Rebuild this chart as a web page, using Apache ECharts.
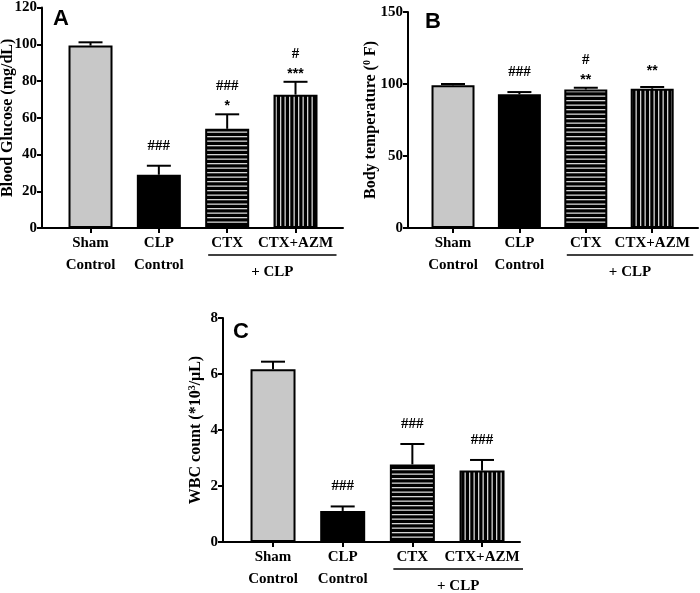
<!DOCTYPE html>
<html><head><meta charset="utf-8">
<script src="https://cdn.jsdelivr.net/npm/echarts@6/dist/echarts.min.js"></script>
<style>html,body{margin:0;padding:0;background:#fff}#c{width:700px;height:593px}</style>
</head><body><div id="c"></div>
<script>
// ---- data ----
const categories = ['Sham\nControl', 'CLP\nControl', 'CTX', 'CTX+AZM'];
const groupLabel = '+ CLP';

const glucoseMean = [99.3, 29.0, 54.0, 72.6];
const glucoseSem  = [1.8, 4.9, 7.9, 7.0];
const glucoseMarksUpper = ['', '', '###', '#'];
const glucoseMarksLower = ['', '###', '*', '***'];
const glucoseTicks = [0, 20, 40, 60, 80, 100, 120];

const tempMean = [99.1, 92.8, 96.2, 96.7];
const tempSem  = [0.9, 1.6, 1.2, 1.2];
const tempMarksUpper = ['', '', '#', ''];
const tempMarksLower = ['', '###', '**', '**'];
const tempTicks = [0, 50, 100, 150];

const wbcMean = [6.17, 1.11, 2.77, 2.55];
const wbcSem  = [0.27, 0.16, 0.73, 0.38];
const wbcMarksUpper = ['', '', '', ''];
const wbcMarksLower = ['', '###', '###', '###'];
const wbcTicks = [0, 2, 4, 6, 8];

// ---- styles ----
const SERIF = '"Liberation Serif", "Times New Roman", serif';
const SANS = '"Liberation Sans", Arial, sans-serif';

function stripeCanvas(horizontal) {
  const c = document.createElement('canvas');
  c.width = 9; c.height = 9;
  const g = c.getContext('2d');
  g.fillStyle = '#000'; g.fillRect(0, 0, 9, 9);
  g.fillStyle = '#d4d4d4';
  if (horizontal) { g.fillRect(0, 1, 9, 1.3); g.fillRect(0, 5.5, 9, 1.3); }
  else { g.fillRect(1, 0, 1.3, 9); g.fillRect(5.5, 0, 1.3, 9); }
  return c;
}
const fills = ['#c8c8c8', '#000000',
  { image: stripeCanvas(true), repeat: 'repeat' },
  { image: stripeCanvas(false), repeat: 'repeat' }];

const panels = [
  { mean: glucoseMean, sem: glucoseSem, up: glucoseMarksUpper, low: glucoseMarksLower, ticks: glucoseTicks,
    grid: { left: 42, top: 7.6, width: 301, height: 220.4 }, xmin: -0.71, xmax: 3.695, barW: 44,
    name: 'Blood Glucose (mg/dL)', nameGap: 26, letter: 'A', letterPos: [61, 19] },
  { mean: tempMean, sem: tempSem, up: tempMarksUpper, low: tempMarksLower, ticks: tempTicks,
    grid: { left: 408, top: 12, width: 290, height: 216 }, xmin: -0.678, xmax: 3.69, barW: 43,
    name: '{a|Body temperature (}{s|0}{a| F)}', nameGap: 28, letter: 'B', letterPos: [433, 22] },
  { mean: wbcMean, sem: wbcSem, up: wbcMarksUpper, low: wbcMarksLower, ticks: wbcTicks,
    grid: { left: 223, top: 318, width: 297, height: 224 }, xmin: -0.718, xmax: 3.545, barW: 45,
    name: '{a|WBC count (*10}{s|3}{a|/μL)}', nameGap: 18, letter: 'C', letterPos: [241, 332] }
];

const idxs = categories.map((_, i) => i);
const option = { animation: false, grid: [], xAxis: [], yAxis: [], series: [], graphic: [] };

panels.forEach((p, k) => {
  option.grid.push(Object.assign({ containLabel: false, outerBoundsMode: 'none' }, p.grid));
  option.xAxis.push({
    gridIndex: k, type: 'value', min: p.xmin, max: p.xmax,
    axisLine: { show: true, onZero: false, lineStyle: { color: '#000', width: 2 } },
    axisTick: { show: true, customValues: idxs, length: 5, lineStyle: { color: '#000', width: 2 } },
    axisLabel: { customValues: idxs, formatter: v => categories[Math.round(v)], margin: 4,
      fontFamily: SERIF, fontWeight: 'bold', fontSize: 15, lineHeight: 22, color: '#000' },
    splitLine: { show: false }
  });
  const ticks = p.ticks;
  option.yAxis.push({
    gridIndex: k, type: 'value', min: ticks[0], max: ticks[ticks.length - 1], interval: ticks[1] - ticks[0],
    axisLine: { show: true, onZero: false, lineStyle: { color: '#000', width: 2 } },
    axisTick: { show: true, inside: false, length: 5, lineStyle: { color: '#000', width: 2 } },
    axisLabel: { margin: 5, fontFamily: SERIF, fontWeight: 'bold', fontSize: 15, color: '#000' },
    splitLine: { show: false },
    name: p.name, nameLocation: 'middle', nameGap: p.nameGap, nameRotate: 90, nameMoveOverlap: false,
    nameTextStyle: { fontFamily: SERIF, fontWeight: 'bold', fontSize: 16, color: '#000',
      rich: { a: { fontFamily: SERIF, fontWeight: 'bold', fontSize: 16, color: '#000' },
              s: { fontFamily: SERIF, fontWeight: 'bold', fontSize: 10, color: '#000', verticalAlign: 'top', padding: [0, 0, 8, 0] } } }
  });
  option.series.push({
    type: 'bar', xAxisIndex: k, yAxisIndex: k, barWidth: p.barW,
    data: p.mean.map((m, i) => ({ value: [i, m], itemStyle: { color: fills[i], borderColor: '#000', borderWidth: 2 } })),
    z: 2
  });
  option.series.push({
    type: 'custom', xAxisIndex: k, yAxisIndex: k, z: 5, clip: false,
    data: p.mean.map((m, i) => [i, m + p.sem[i], m]),
    renderItem(params, api) {
      const x = api.value(0);
      const pt = api.coord([x, api.value(1)]);
      const pb = api.coord([x, api.value(2)]);
      const cap = 24;
      const ch = [
        { type: 'line', shape: { x1: pt[0], y1: pb[1], x2: pt[0], y2: pt[1] }, style: { stroke: '#000', lineWidth: 2 } },
        { type: 'line', shape: { x1: pt[0] - cap / 2, y1: pt[1], x2: pt[0] + cap / 2, y2: pt[1] }, style: { stroke: '#000', lineWidth: 2 } }
      ];
      const up = p.up[params.dataIndex], low = p.low[params.dataIndex];
      const addText = (t, dy) => {
        if (!t) return;
        const star = t.indexOf('*') >= 0;
        ch.push({ type: 'text', style: { text: t, x: pt[0], y: pt[1] - dy + (star ? 4 : 0), align: 'center', verticalAlign: 'middle',
          fontFamily: star ? SANS : SERIF, fontWeight: 'bold', fontSize: star ? 14 : 15, fill: '#000' } });
      };
      if (up) { addText(low, 12); addText(up, 28); } else { addText(low, 20); }
      return { type: 'group', children: ch };
    }
  });
});

const chart = echarts.init(document.getElementById('c'), null, { renderer: 'canvas' });
chart.setOption(option);

const graphics = [];
panels.forEach((p, k) => {
  graphics.push({ type: 'text', x: p.letterPos[0], y: p.letterPos[1],
    style: { text: p.letter, align: 'center', verticalAlign: 'middle', fontFamily: SANS, fontWeight: 'bold', fontSize: 22, fill: '#000' } });
  const a = chart.convertToPixel({ xAxisIndex: k, yAxisIndex: k }, [2, 0]);
  const b = chart.convertToPixel({ xAxisIndex: k, yAxisIndex: k }, [3, 0]);
  graphics.push({ type: 'line', shape: { x1: a[0] - 19, y1: a[1] + 27, x2: b[0] + 41, y2: a[1] + 27 }, style: { stroke: '#000', lineWidth: 1.5 } });
  graphics.push({ type: 'text', x: (a[0] - 19 + b[0] + 41) / 2, y: a[1] + 44,
    style: { text: groupLabel, align: 'center', verticalAlign: 'middle', fontFamily: SERIF, fontWeight: 'bold', fontSize: 15, fill: '#000' } });
});
chart.setOption({ graphic: graphics });
</script></body></html>
